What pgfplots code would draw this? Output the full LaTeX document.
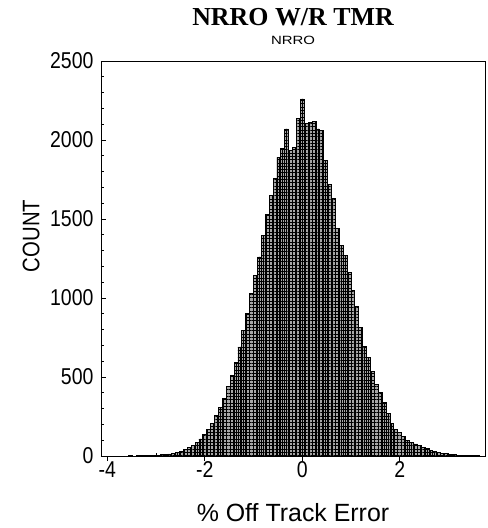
\documentclass[border=0pt]{standalone}
\usepackage{pgfplots}
\usepackage{pgfplotstable}
\pgfplotsset{compat=1.18}
\usetikzlibrary{patterns.meta}
\usepackage{fontspec}
\setmainfont{Liberation Sans}
\newfontfamily\titlefont{Liberation Serif}
\newfontfamily\condfont[FakeStretch=0.85]{Liberation Sans}
\newfontfamily\widefont[FakeStretch=1.25]{Liberation Sans}
\pgfplotstableread{
x count
-3.60 0
-3.52 1
-3.44 0
-3.36 1
-3.28 2
-3.20 2
-3.12 3
-3.04 4
-2.96 6
-2.88 7
-2.80 10
-2.72 13
-2.64 18
-2.56 24
-2.48 31
-2.40 40
-2.32 52
-2.24 66
-2.16 84
-2.08 108
-2.00 138
-1.92 168
-1.84 208
-1.76 255
-1.68 310
-1.60 365
-1.52 438
-1.44 512
-1.36 590
-1.28 690
-1.20 795
-1.12 905
-1.04 1030
-0.96 1140
-0.88 1260
-0.80 1395
-0.72 1530
-0.64 1650
-0.56 1755
-0.48 1890
-0.40 1945
-0.32 2070
-0.24 1935
-0.16 1950
-0.08 2135
0.00 2260
0.08 2105
0.16 2110
0.24 2115
0.32 2070
0.40 2060
0.48 1870
0.56 1720
0.64 1630
0.72 1440
0.80 1330
0.88 1272
0.96 1160
1.04 1050
1.12 945
1.20 815
1.28 695
1.36 622
1.44 535
1.52 455
1.60 400
1.68 338
1.76 270
1.84 205
1.92 170
2.00 150
2.08 123
2.16 100
2.24 88
2.32 76
2.40 66
2.48 56
2.56 45
2.64 36
2.72 28
2.80 22
2.88 18
2.96 14
3.04 10
3.12 8
3.20 6
3.28 5
3.36 4
3.44 3
3.52 2
3.60 1
}\histdata
\begin{document}
\begin{tikzpicture}
\begin{axis}[
  at={(0,0)}, anchor=south west,
  scale only axis, width=384bp, height=395bp,
  xmin=-4.13, xmax=3.75, ymin=0, ymax=2500,
  xtick={-4,-2,0,2}, minor xtick={-3,-1,1,3},
  ytick={0,500,1000,1500,2000,2500}, minor y tick num=4,
  xtick pos=bottom, ytick pos=left,
  tick align=inside,
  major tick length=5bp, minor tick length=3bp,
  major x tick style={yshift=-5bp},
  axis line style={line width=0.9pt},
  every tick/.style={black, line width=0.8pt},
  /pgf/number format/assume math mode=true,
  /pgf/number format/set thousands separator={},
  xticklabel style={font=\condfont\fontsize{23}{26}\selectfont, yshift=-2bp},
  yticklabel style={font=\condfont\fontsize{23}{26}\selectfont, xshift=-4bp},
  xticklabels={-4,-2,0,2},
  xlabel={\% Off Track Error},
  xlabel style={font=\fontsize{25}{28}\selectfont, at={(axis description cs:0.5,0)}, anchor=center, yshift=-57bp},
  ylabel={COUNT},
  ylabel style={font=\condfont\fontsize{24}{28}\selectfont, at={(axis description cs:-0.182,0.557)}, anchor=center, rotate=0},
  title={\titlefont\bfseries NRRO W/R TMR},
  title style={font=\fontsize{26}{28}\selectfont, at={(axis description cs:0.5,1.096)}, anchor=center},
  after end axis/.code={\node[font=\widefont\fontsize{12}{13}\selectfont] at (axis description cs:0.5,1.051) {NRRO};},
]
\addplot[ybar, bar width=0.08, bar shift=0pt, draw=none, fill=black!35, forget plot]
  table[x=x, y=count] {\histdata};
\addplot[ybar, bar width=0.08, bar shift=0pt, draw=black, line width=0.8pt,
  pattern={Hatch[angle=0, distance=3.3pt, line width=0.9pt]}, pattern color=black]
  table[x=x, y=count] {\histdata};
\end{axis}
\pgfresetboundingbox
\path[use as bounding box] (-101bp,-72bp) rectangle (387bp,456bp);
\end{tikzpicture}
\end{document}
